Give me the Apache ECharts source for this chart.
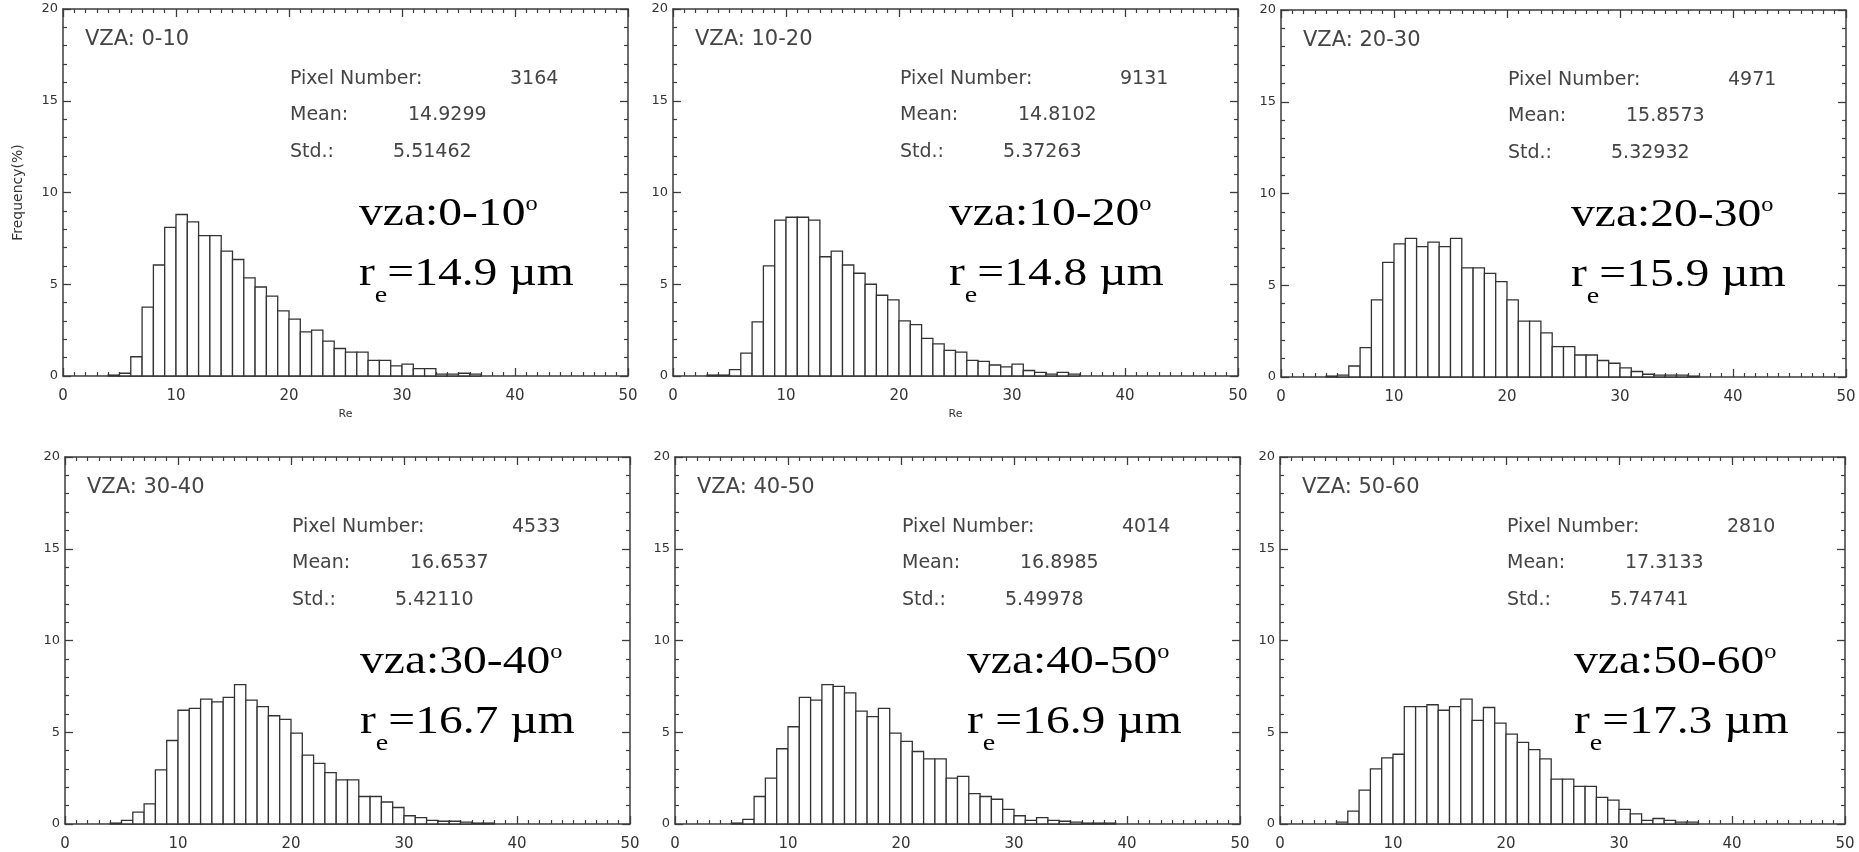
<!DOCTYPE html>
<html lang="en">
<head>
    <meta charset="UTF-8">
    <title>Re histograms by VZA</title>
    <script src="https://cdn.jsdelivr.net/npm/echarts@6.0.0/dist/echarts.min.js"></script>
</head>
<body style="margin:0;background:#fff;">
<div id="main" style="width:1859px;height:852px;"></div>
<script type="text/javascript">
    // panel labels and statistics
    var vzaRanges = ['0-10', '10-20', '20-30', '30-40', '40-50', '50-60'];
    var pixelNumber = ['3164', '9131', '4971', '4533', '4014', '2810'];
    var meanRe = ['14.9299', '14.8102', '15.8573', '16.6537', '16.8985', '17.3133'];
    var stdRe = ['5.51462', '5.37263', '5.32932', '5.42110', '5.49978', '5.74741'];
    var reRounded = ['14.9', '14.8', '15.9', '16.7', '16.9', '17.3'];

    // histogram frequency (%) per 1 um bin, firstBin = left edge of the first value
    var firstBin = [4, 3, 4, 4, 5, 5];
    var freq0_10 = [0.05, 0.15, 1.05, 3.75, 6.05, 8.1, 8.8, 8.4, 7.65, 7.65, 6.8, 6.35, 5.35, 4.85, 4.35, 3.55, 3.1,
        2.4, 2.5, 1.9, 1.5, 1.3, 1.3, 0.85, 0.85, 0.55, 0.65, 0.4, 0.4, 0.1, 0.1, 0.15, 0.1];
    var freq10_20 = [0.05, 0.05, 0.35, 1.25, 2.95, 6.0, 8.5, 8.65, 8.65, 8.5, 6.5, 6.8, 6.05, 5.6, 5.0, 4.4, 4.15,
        3.0, 2.8, 2.05, 1.75, 1.4, 1.3, 0.85, 0.8, 0.6, 0.5, 0.65, 0.3, 0.2, 0.1, 0.2, 0.1];
    var freq20_30 = [0.05, 0.1, 0.6, 1.6, 4.2, 6.25, 7.25, 7.55, 7.1, 7.35, 7.1, 7.55, 5.95, 5.95, 5.65, 5.2, 4.2,
        3.05, 3.05, 2.4, 1.65, 1.65, 1.2, 1.2, 0.9, 0.75, 0.5, 0.3, 0.15, 0.1, 0.1, 0.1, 0.05];
    var freq30_40 = [0.05, 0.2, 0.65, 1.1, 2.95, 4.55, 6.2, 6.3, 6.8, 6.65, 6.9, 7.6, 6.75, 6.4, 5.9, 5.7, 4.95,
        3.75, 3.3, 2.8, 2.4, 2.4, 1.5, 1.5, 1.2, 0.9, 0.45, 0.35, 0.2, 0.15, 0.15, 0.1, 0.05, 0.05];
    var freq40_50 = [0.05, 0.25, 1.5, 2.5, 4.1, 5.3, 6.9, 6.75, 7.6, 7.5, 7.15, 6.15, 5.85, 6.3, 4.95, 4.5, 3.95,
        3.55, 3.55, 2.5, 2.6, 1.65, 1.5, 1.35, 0.8, 0.45, 0.2, 0.35, 0.2, 0.15, 0.1, 0.05, 0.05, 0.05];
    var freq50_60 = [0.1, 0.7, 1.85, 3.0, 3.6, 3.8, 6.4, 6.4, 6.5, 6.2, 6.4, 6.8, 5.65, 6.35, 5.5, 4.9, 4.45,
        4.05, 3.55, 2.45, 2.45, 2.05, 2.05, 1.45, 1.3, 0.8, 0.55, 0.2, 0.3, 0.2, 0.1, 0.1];
    var freqs = [freq0_10, freq10_20, freq20_30, freq30_40, freq40_50, freq50_60];

    // axes
    var xMin = 0, xMax = 50, xStep = 10;
    var yMin = 0, yMax = 20, yStep = 5;

    // layout of the six panels
    var panelLeft = [63, 673, 1281, 65, 675, 1280];
    var panelTop = [9, 9, 10, 457, 457, 457];
    var panelW = 565, panelH = 367;
    var bigTextDx = [296, 276, 290, 295, 292, 294];

    var axisColor = '#3c3c3c';
    var idlFont = 'DejaVu Sans';

    function histRect(params, api) {
        var top = api.coord([api.value(0), api.value(1)]);
        var bot = api.coord([api.value(0) + 1, 0]);
        return {
            type: 'rect',
            shape: {x: top[0], y: top[1], width: bot[0] - top[0], height: bot[1] - top[1]},
            style: {fill: '#fff', stroke: '#333', lineWidth: 1.3}
        };
    }

    function boxAxis(type, gridIndex, pos, showLabel, extra) {
        var isX = type === 'x';
        var ax = {
            gridIndex: gridIndex,
            type: 'value',
            position: pos,
            min: isX ? xMin : yMin,
            max: isX ? xMax : yMax,
            interval: isX ? xStep : yStep,
            axisLine: {show: true, onZero: false, lineStyle: {color: axisColor, width: 1.5}},
            axisTick: {show: true, inside: true, length: 8, lineStyle: {color: axisColor, width: 1.3}},
            minorTick: {show: true, splitNumber: isX ? 10 : 5, length: 4, lineStyle: {color: axisColor, width: 1.2}},
            splitLine: {show: false},
            axisLabel: {
                show: showLabel,
                showMinLabel: true,
                showMaxLabel: true,
                color: '#333',
                fontFamily: idlFont,
                fontSize: isX ? 15 : 13,
                margin: isX ? 13 : 5
            }
        };
        if (extra) {
            for (var k in extra) ax[k] = extra[k];
        }
        return ax;
    }

    var grids = [], xAxes = [], yAxes = [], series = [], graphics = [];

    for (var i = 0; i < 6; i++) {
        var L = panelLeft[i], T = panelTop[i];
        grids.push({left: L, top: T, width: panelW, height: panelH});

        var xExtra = null, yExtra = null;
        if (i < 2) {
            xExtra = {name: 'Re', nameLocation: 'middle', nameGap: 33,
                nameTextStyle: {fontFamily: idlFont, fontSize: 11, color: '#333'}};
        }
        if (i === 0) {
            yExtra = {name: 'Frequency(%)', nameLocation: 'middle', nameGap: 38, nameRotate: 90,
                nameTextStyle: {fontFamily: idlFont, fontSize: 14, color: '#333'}};
        }
        xAxes.push(boxAxis('x', i, 'bottom', true, xExtra));
        xAxes.push(boxAxis('x', i, 'top', false));
        yAxes.push(boxAxis('y', i, 'left', true, yExtra));
        yAxes.push(boxAxis('y', i, 'right', false));

        var pts = [];
        for (var k = 0; k < freqs[i].length; k++) {
            pts.push([firstBin[i] + k, freqs[i][k]]);
        }
        series.push({
            type: 'custom',
            xAxisIndex: i * 2,
            yAxisIndex: i * 2,
            data: pts,
            renderItem: histRect,
            silent: true
        });

        // IDL-style annotations
        var small = {fontFamily: idlFont, fontSize: 19, fill: '#444', verticalAlign: 'middle'};
        graphics.push({type: 'text', x: L + 22, y: T + 31,
            style: Object.assign({}, small, {text: 'VZA: ' + vzaRanges[i], fontSize: 21})});
        graphics.push({type: 'text', x: L + 227, y: T + 70, style: Object.assign({text: 'Pixel Number:'}, small)});
        graphics.push({type: 'text', x: L + 447, y: T + 70, style: Object.assign({text: pixelNumber[i]}, small)});
        graphics.push({type: 'text', x: L + 227, y: T + 106, style: Object.assign({text: 'Mean:'}, small)});
        graphics.push({type: 'text', x: L + 345, y: T + 106, style: Object.assign({text: meanRe[i]}, small)});
        graphics.push({type: 'text', x: L + 227, y: T + 143, style: Object.assign({text: 'Std.:'}, small)});
        graphics.push({type: 'text', x: L + 330, y: T + 143, style: Object.assign({text: stdRe[i]}, small)});

        // big serif labels
        var bx = L + bigTextDx[i];
        graphics.push({
            type: 'text', x: bx, y: T + 186, scaleX: 1.22,
            style: {
                text: '{m|vza:' + vzaRanges[i] + '}{s|o}',
                verticalAlign: 'top',
                rich: {
                    m: {fontFamily: 'Liberation Serif', fontSize: 39, lineHeight: 44, fill: '#000', verticalAlign: 'top'},
                    s: {fontFamily: 'Liberation Serif', fontSize: 20, lineHeight: 21, fill: '#000', verticalAlign: 'top'}
                }
            }
        });
        graphics.push({
            type: 'text', x: bx, y: T + 246, scaleX: 1.22,
            style: {
                text: '{m|r}{e|e}{m|=' + reRounded[i] + ' \u00b5m}',
                verticalAlign: 'top',
                rich: {
                    m: {fontFamily: 'Liberation Serif', fontSize: 39, lineHeight: 44, fill: '#000', verticalAlign: 'top'},
                    e: {fontFamily: 'Liberation Serif', fontSize: 23, lineHeight: 52, fill: '#000', verticalAlign: 'bottom'}
                }
            }
        });
    }

    var myChart = echarts.init(document.getElementById('main'));
    myChart.setOption({
        backgroundColor: '#fff',
        animation: false,
        grid: grids,
        xAxis: xAxes,
        yAxis: yAxes,
        series: series,
        graphic: graphics
    });
</script>
</body>
</html>
